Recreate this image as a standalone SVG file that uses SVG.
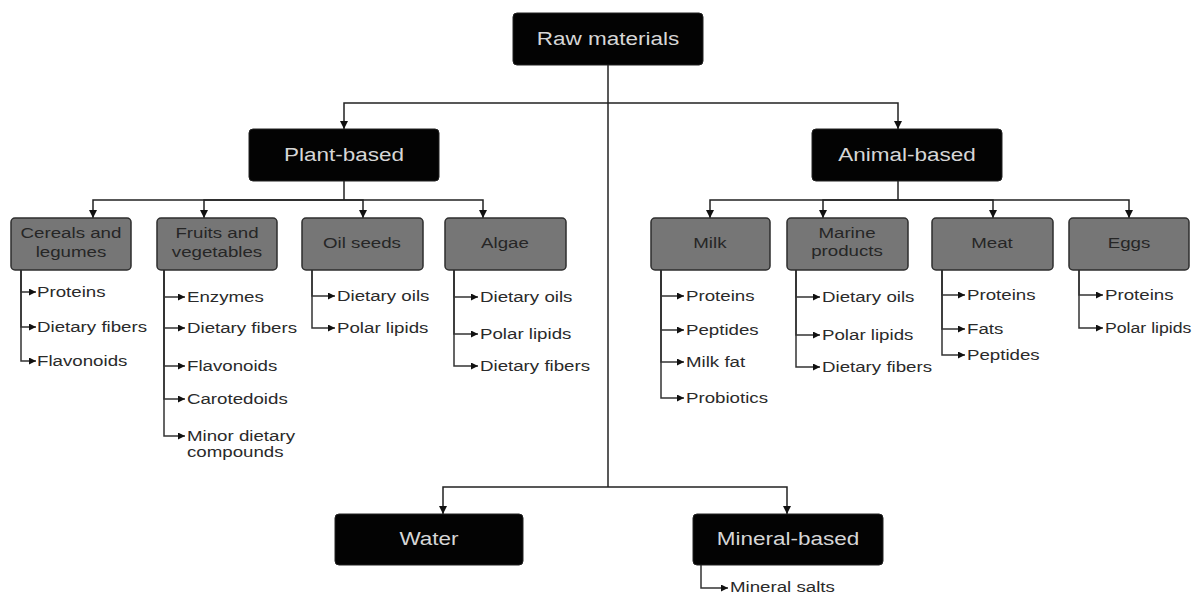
<svg xmlns="http://www.w3.org/2000/svg" width="1194" height="595" viewBox="0 0 1194 595">
<style>
  .bk rect { fill: #030303; stroke: #222; stroke-width: 1; }
  .bk text { fill: #d6d6d6; font-family: "Liberation Sans", Arial, sans-serif; font-size: 18px; text-anchor: middle; transform-box: fill-box; transform-origin: center; transform: scaleX(1.25); }
  .gr rect { fill: #767676; stroke: #2e2e2e; stroke-width: 1.5; }
  .gr text { fill: #262626; font-family: "Liberation Sans", Arial, sans-serif; font-size: 14.5px; text-anchor: middle; transform-box: fill-box; transform-origin: center; transform: scaleX(1.29); }
  .leaf { fill: #2a2a2a; font-family: "Liberation Sans", Arial, sans-serif; font-size: 14.5px; transform-box: fill-box; transform-origin: left center; transform: scaleX(1.29); }
  .leaf.nar { transform: scaleX(1.22); }
  .c { fill: none; stroke: #222; stroke-width: 1.5; }
  .cd { marker-end: url(#ad); }
  .cl { fill: none; stroke: #333; stroke-width: 1.5; marker-end: url(#al); }
</style>
<defs>
  <marker id="ad" viewBox="0 0 10 10" refX="10" refY="5" markerWidth="9" markerHeight="8" markerUnits="userSpaceOnUse" orient="auto">
    <path d="M0,0 L10,5 L0,10 z" fill="#111"/>
  </marker>
  <marker id="al" viewBox="0 0 10 10" refX="10" refY="5" markerWidth="10" markerHeight="7" markerUnits="userSpaceOnUse" orient="auto">
    <path d="M0,0 L10,5 L0,10 z" fill="#111"/>
  </marker>
</defs>
<rect width="1194" height="595" fill="#fff"/>

<g id="connectors">
  <!-- top level -->
  <path class="c" d="M608,65 V487"/>
  <path class="c cd" d="M608,103 H344 V129"/>
  <path class="c cd" d="M608,103 H898 V129"/>
  <path class="c cd" d="M608,487 H443 V514"/>
  <path class="c cd" d="M608,487 H787 V514"/>
  <!-- plant -->
  <path class="c" d="M344,181 V200"/>
  <path class="c cd" d="M344,200 H93 V218"/>
  <path class="c cd" d="M344,200 H204 V218"/>
  <path class="c cd" d="M344,200 H363 V218"/>
  <path class="c cd" d="M344,200 H483 V218"/>
  <!-- animal -->
  <path class="c" d="M898,181 V200"/>
  <path class="c cd" d="M898,200 H710 V218"/>
  <path class="c cd" d="M898,200 H823 V218"/>
  <path class="c cd" d="M898,200 H993 V218"/>
  <path class="c cd" d="M898,200 H1129 V218"/>
  <!-- leaves: cereals -->
  <path class="cl" d="M21,270 V292 H36"/>
  <path class="cl" d="M21,270 V327 H36"/>
  <path class="cl" d="M21,270 V361 H36"/>
  <!-- fruits -->
  <path class="cl" d="M164,270 V297 H185"/>
  <path class="cl" d="M164,270 V328 H185"/>
  <path class="cl" d="M164,270 V366 H185"/>
  <path class="cl" d="M164,270 V399 H185"/>
  <path class="cl" d="M164,270 V436 H185"/>
  <!-- oil seeds -->
  <path class="cl" d="M312,270 V296 H335"/>
  <path class="cl" d="M312,270 V328 H335"/>
  <!-- algae -->
  <path class="cl" d="M454,270 V297 H478"/>
  <path class="cl" d="M454,270 V334 H478"/>
  <path class="cl" d="M454,270 V366 H478"/>
  <!-- milk -->
  <path class="cl" d="M661,270 V296 H684"/>
  <path class="cl" d="M661,270 V330 H684"/>
  <path class="cl" d="M661,270 V362 H684"/>
  <path class="cl" d="M661,270 V398 H684"/>
  <!-- marine -->
  <path class="cl" d="M796,270 V297 H820"/>
  <path class="cl" d="M796,270 V335 H820"/>
  <path class="cl" d="M796,270 V367 H820"/>
  <!-- meat -->
  <path class="cl" d="M942,270 V295 H965"/>
  <path class="cl" d="M942,270 V329 H965"/>
  <path class="cl" d="M942,270 V355 H965"/>
  <!-- eggs -->
  <path class="cl" d="M1079,270 V295 H1103"/>
  <path class="cl" d="M1079,270 V328 H1103"/>
  <!-- mineral -->
  <path class="cl" d="M701,565 V588 H728"/>
</g>

<g id="raw" class="bk"><rect x="513" y="13" width="190" height="52" rx="4"/><text x="608" y="45">Raw materials</text></g>
<g id="plant" class="bk"><rect x="249" y="129" width="190" height="52" rx="4"/><text x="344" y="161">Plant-based</text></g>
<g id="animal" class="bk"><rect x="812" y="129" width="190" height="52" rx="4"/><text x="907" y="161">Animal-based</text></g>
<g id="water" class="bk"><rect x="335" y="514" width="188" height="51" rx="4"/><text x="429" y="545">Water</text></g>
<g id="mineral" class="bk"><rect x="693" y="514" width="190" height="51" rx="4"/><text x="788" y="545">Mineral-based</text></g>

<g id="cereals" class="gr"><rect x="11" y="218" width="120" height="52" rx="4"/><text x="71" y="238">Cereals and</text><text x="71" y="257">legumes</text></g>
<g id="fruits" class="gr"><rect x="157" y="218" width="120" height="52" rx="4"/><text x="217" y="238">Fruits and</text><text x="217" y="257">vegetables</text></g>
<g id="oilseeds" class="gr"><rect x="302" y="218" width="121" height="52" rx="4"/><text x="362" y="248">Oil seeds</text></g>
<g id="algae" class="gr"><rect x="445" y="218" width="121" height="52" rx="4"/><text x="505" y="248">Algae</text></g>
<g id="milk" class="gr"><rect x="651" y="218" width="119" height="52" rx="4"/><text x="710" y="248">Milk</text></g>
<g id="marine" class="gr"><rect x="787" y="218" width="121" height="52" rx="4"/><text x="847" y="238">Marine</text><text x="847" y="256">products</text></g>
<g id="meat" class="gr"><rect x="932" y="218" width="121" height="52" rx="4"/><text x="992" y="248">Meat</text></g>
<g id="eggs" class="gr"><rect x="1069" y="218" width="120" height="52" rx="4"/><text x="1129" y="248">Eggs</text></g>

<g id="leaves">
  <text class="leaf" x="37" y="297">Proteins</text>
  <text class="leaf" x="37" y="332">Dietary fibers</text>
  <text class="leaf" x="37" y="366">Flavonoids</text>

  <text class="leaf" x="187" y="302">Enzymes</text>
  <text class="leaf" x="187" y="333">Dietary fibers</text>
  <text class="leaf" x="187" y="371">Flavonoids</text>
  <text class="leaf" x="187" y="404">Carotedoids</text>
  <text class="leaf" x="187" y="441">Minor dietary</text>
  <text class="leaf" x="187" y="457">compounds</text>

  <text class="leaf" x="337" y="301">Dietary oils</text>
  <text class="leaf" x="337" y="333">Polar lipids</text>

  <text class="leaf" x="480" y="302">Dietary oils</text>
  <text class="leaf" x="480" y="339">Polar lipids</text>
  <text class="leaf" x="480" y="371">Dietary fibers</text>

  <text class="leaf" x="686" y="301">Proteins</text>
  <text class="leaf" x="686" y="335">Peptides</text>
  <text class="leaf" x="686" y="367">Milk fat</text>
  <text class="leaf" x="686" y="403">Probiotics</text>

  <text class="leaf" x="822" y="302">Dietary oils</text>
  <text class="leaf" x="822" y="340">Polar lipids</text>
  <text class="leaf" x="822" y="372">Dietary fibers</text>

  <text class="leaf" x="967" y="300">Proteins</text>
  <text class="leaf" x="967" y="334">Fats</text>
  <text class="leaf" x="967" y="360">Peptides</text>

  <text class="leaf" x="1105" y="300">Proteins</text>
  <text class="leaf nar" x="1105" y="333">Polar lipids</text>

  <text class="leaf" x="730" y="592">Mineral salts</text>
</g>
</svg>
